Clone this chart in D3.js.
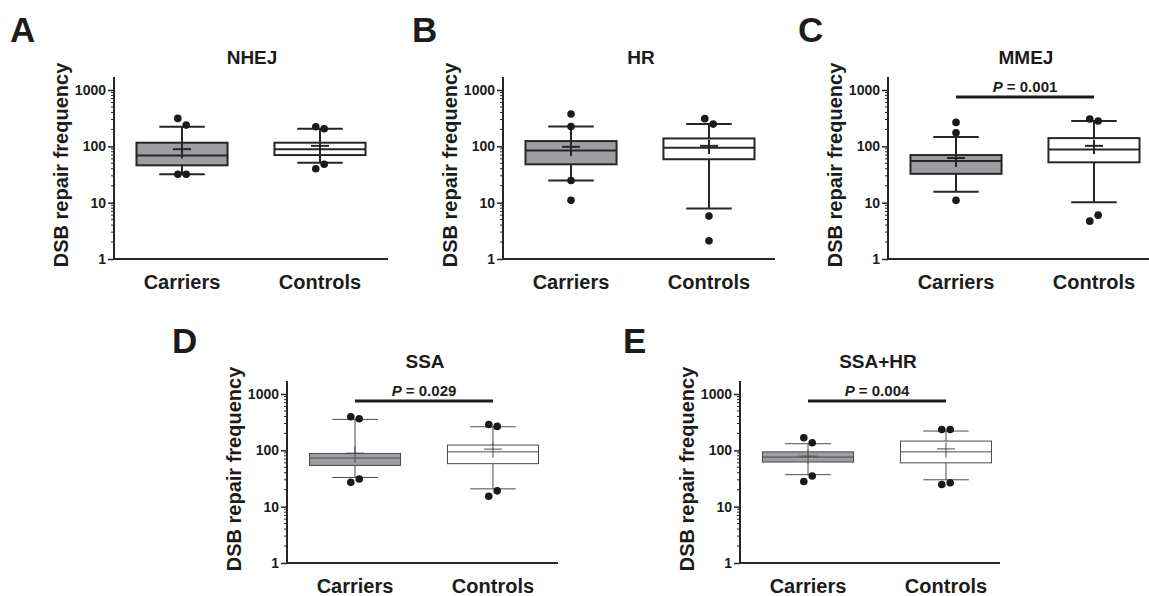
<!DOCTYPE html>
<html>
<head>
<meta charset="utf-8">
<script src="https://cdn.jsdelivr.net/npm/d3@7"></script>
<style>
  body { margin: 0; background: #fff; }
  svg text { font-family: "Liberation Sans", Arial, sans-serif; font-weight: bold; fill: #1c1c1c; }
</style>
</head>
<body>
<div id="chart"></div>
<script>
// data (values on log scale)
const categories = ["Carriers", "Controls"];
const panelLetters = ["A", "B", "C", "D", "E"];
const assays = ["NHEJ", "HR", "MMEJ", "SSA", "SSA+HR"];
const pValues = ["", "", "0.001", "0.029", "0.004"];
const yTicks = [1, 10, 100, 1000];

// per assay: [Carriers, Controls]
const q1 = [[46, 70], [48, 59], [32.5, 52], [54, 58], [62, 60]];
const median = [[69, 89], [84.5, 94], [55, 88], [73, 94], [76, 94]];
const q3 = [[116, 116], [124, 138], [70, 140], [88, 124], [94, 146]];
const whiskerLow = [[32, 51], [24.7, 7.9], [15.7, 10.2], [33, 20.7], [37, 30]];
const whiskerHigh = [[223, 205], [226, 248], [146, 281], [354, 262], [131, 220]];
const means = [[89, 102], [98, 102], [62, 102], [89, 105], [79, 106]];
const meanErr = [[28, 34], [31, 29], [19, 29], [29, 31], [21, 32]];
const points = [
  [[313, 238, 32, 32], [222, 205, 40, 48]],
  [[374, 225, 24.7, 11], [310, 248, 5.8, 2.1]],
  [[266, 174, 11], [305, 281, 6.0, 4.7]],
  [[395, 364, 27, 31], [288, 266, 15.3, 19.1]],
  [[167, 136, 28, 35], [235, 235, 24.7, 26.5]]
];

// panel placement on the page
const layout = [
  {x0: 114, x1: 388, top: 90, bottom: 259, lx: 10, ly: 42, thin: false},
  {x0: 503, x1: 775, top: 90, bottom: 259, lx: 412, ly: 42, thin: false},
  {x0: 888, x1: 1149, top: 90, bottom: 259, lx: 798, ly: 42, thin: false},
  {x0: 287, x1: 558, top: 394, bottom: 563, lx: 172, ly: 353, thin: true},
  {x0: 740, x1: 1000, top: 394, bottom: 563, lx: 623, ly: 353, thin: true}
];

const width = 1149, height = 596;
const boxFill = ["#9d9ea2", "#ffffff"];

const svg = d3.select("#chart").append("svg")
  .attr("width", width)
  .attr("height", height);

assays.forEach((a, i) => drawPanel(i));

function drawPanel(i) {
  let L = layout[i];
  let g = svg.append("g");
  let ink = L.thin ? "#4a4a4a" : "#262626",
    lw = L.thin ? 1 : 2;

  let y = d3.scaleLog().domain([1, 1000]).range([L.bottom, L.top]);
  let x = d3.scaleBand().domain(categories)
    .range([L.x0, L.x0 + 274]).paddingInner(0.34).paddingOuter(0.163);
  let bw = x.bandwidth();

  // panel letter and title
  g.append("text").attr("x", L.lx).attr("y", L.ly)
    .style("font-size", "35px").text(panelLetters[i]);
  g.append("text").attr("x", L.x0 + 138).attr("y", L.top - 26)
    .attr("text-anchor", "middle").style("font-size", "19px").text(assays[i]);

  // y axis: major ticks, minor ticks
  let minor = [];
  for (let d = 1; d < 1000; d *= 10)
    for (let k = 2; k < 10; k++) minor.push(d * k);

  g.selectAll("line.minor").data(minor).join("line")
    .attr("class", "minor")
    .attr("x1", L.x0 - 3).attr("x2", L.x0)
    .attr("y1", d => y(d)).attr("y2", d => y(d))
    .attr("stroke", "#262626").attr("stroke-width", 1);

  let yAxis = d3.axisLeft(y).tickValues(yTicks).tickFormat(d3.format("d"))
    .tickSize(6).tickPadding(2).tickSizeOuter(0);
  let ax = g.append("g").attr("transform", `translate(${L.x0},0)`).call(yAxis);
  ax.select(".domain").remove();
  ax.selectAll(".tick line").attr("stroke", "#262626").attr("stroke-width", 1.5);
  ax.selectAll(".tick text").style("font-size", "14px").style("font-family", null)
    .attr("fill", "#1c1c1c");

  g.append("line").attr("x1", L.x0).attr("x2", L.x0)
    .attr("y1", L.top - 13).attr("y2", L.bottom + 1)
    .attr("stroke", "#262626").attr("stroke-width", 2);
  g.append("line").attr("x1", L.x0 - 1).attr("x2", L.x1)
    .attr("y1", L.bottom).attr("y2", L.bottom)
    .attr("stroke", "#262626").attr("stroke-width", 2);

  g.append("text")
    .attr("transform", `translate(${L.x0 - 46},${(L.top - 13 + L.bottom) / 2 - 3}) rotate(-90)`)
    .attr("text-anchor", "middle").style("font-size", "20px")
    .text("DSB repair frequency");

  g.selectAll("text.cat").data(categories).join("text")
    .attr("class", "cat")
    .attr("x", d => x(d) + bw / 2).attr("y", L.bottom + 30)
    .attr("text-anchor", "middle").style("font-size", "20px").text(d => d);

  // boxes
  categories.forEach((c, j) => {
    let cx = x(c) + bw / 2;
    let bg = g.append("g").attr("stroke", ink).attr("stroke-width", lw);

    bg.append("line").attr("x1", cx).attr("x2", cx)
      .attr("y1", y(whiskerLow[i][j])).attr("y2", y(whiskerHigh[i][j]));
    [whiskerLow[i][j], whiskerHigh[i][j]].forEach(v => {
      bg.append("line").attr("x1", cx - bw / 4).attr("x2", cx + bw / 4)
        .attr("y1", y(v)).attr("y2", y(v));
    });

    bg.append("rect").attr("x", x(c)).attr("width", bw)
      .attr("y", y(q3[i][j])).attr("height", y(q1[i][j]) - y(q3[i][j]))
      .attr("fill", boxFill[j]);
    bg.append("line").attr("x1", x(c)).attr("x2", x(c) + bw)
      .attr("y1", y(median[i][j])).attr("y2", y(median[i][j]));

    // mean with error bar
    let m = means[i][j], e = meanErr[i][j];
    bg.append("line").attr("x1", cx).attr("x2", cx)
      .attr("y1", y(m - e)).attr("y2", y(m + e));
    bg.append("line").attr("x1", cx - 9).attr("x2", cx + 9)
      .attr("y1", y(m)).attr("y2", y(m));

    // dots: pairs that would overlap are pushed apart, far one to the left
    let pts = points[i][j].map(v => ({v: v, dx: 0}));
    let up = pts.filter(p => p.v >= median[i][j]).sort((a, b) => b.v - a.v),
      down = pts.filter(p => p.v < median[i][j]).sort((a, b) => a.v - b.v);
    [up, down].forEach(tail => {
      if (tail.length == 2 && Math.abs(y(tail[0].v) - y(tail[1].v)) < 9) {
        tail[0].dx = -4.2; tail[1].dx = 4.2;
      }
    });
    g.selectAll(null).data(pts).join("circle")
      .attr("cx", p => cx + p.dx).attr("cy", p => y(p.v))
      .attr("r", 3.8).attr("fill", "#1a1a1a");
  });

  // significance bar
  if (pValues[i]) {
    let a = x(categories[0]) + bw / 2, b = x(categories[1]) + bw / 2;
    g.append("line").attr("x1", a).attr("x2", b)
      .attr("y1", L.top + 7).attr("y2", L.top + 7)
      .attr("stroke", "#1c1c1c").attr("stroke-width", 3);
    let t = g.append("text").attr("x", L.x0 + 137).attr("y", L.top + 2)
      .attr("text-anchor", "middle").style("font-size", "15px");
    t.append("tspan").style("font-style", "italic").text("P");
    t.append("tspan").text(" = " + pValues[i]);
  }
}
</script>
</body>
</html>
